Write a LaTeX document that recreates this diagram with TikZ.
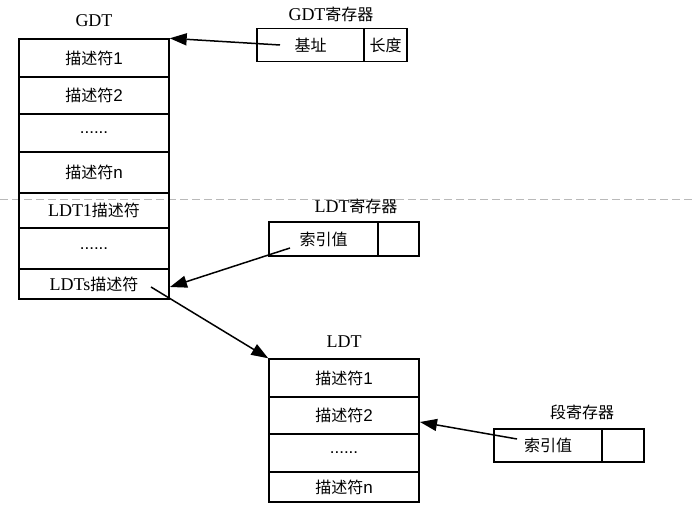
\documentclass[tikz,border=0pt]{standalone}
\usepackage{fontspec}
\setmainfont{Liberation Serif}
\newfontfamily\cjk{Noto Sans CJK SC}
\newfontfamily\arial{Liberation Sans}
\usetikzlibrary{arrows.meta}
\newcommand{\zh}[1]{{\cjk\fontsize{16}{18}\selectfont #1}}
\newcommand{\ar}[1]{{\arial\fontsize{17}{19}\selectfont #1}}
\begin{document}
\begin{tikzpicture}[x=1pt,y=-1pt,
  cell/.style={draw,line width=1.4pt,inner sep=0pt,font=\fontsize{18}{20}\selectfont},
  lbl/.style={inner sep=0pt,font=\fontsize{18}{20}\selectfont},
  conn/.style={line width=1.5pt,-{Triangle[length=17pt,width=12pt]}}]
\useasboundingbox (0,0) rectangle (694,510);
\draw[gray!55,dash pattern=on 8pt off 4pt,line width=1pt] (0,200) -- (694,200);
% GDT table
\node[lbl] (gdtl) at (94,21) {GDT};
\node[cell,minimum width=150pt,minimum height=38pt] (g1) at (94,58) {\zh{描述符}\ar{1}};
\node[cell,minimum width=150pt,minimum height=37pt] (g2) at (94,95.5) {\zh{描述符}\ar{2}};
\node[cell,minimum width=150pt,minimum height=38pt] (g3) at (94,133) {\ar{......}};
\node[cell,minimum width=150pt,minimum height=41pt] (g4) at (94,172.5) {\zh{描述符}\ar{n}};
\node[cell,minimum width=150pt,minimum height=35pt] (g5) at (94,210.5) {LDT1\zh{描述符}};
\node[cell,minimum width=150pt,minimum height=41pt] (g6) at (94,248.5) {\ar{......}};
\node[cell,minimum width=150pt,minimum height=30pt] (g7) at (94,284) {LDTs\zh{描述符}};
% GDT register
\node[lbl] (gregl) at (331,14) {GDT\zh{寄存器}};
\node[cell,minimum width=107pt,minimum height=33pt] (gbase) at (310.5,45) {\zh{基址}};
\node[cell,minimum width=43pt,minimum height=33pt] (glen) at (385.5,45) {\zh{长度}};
% LDT register
\node[lbl] (lregl) at (356,206) {LDT\zh{寄存器}};
\node[cell,minimum width=109pt,minimum height=34pt] (lidx) at (323.5,239) {\zh{索引值}};
\node[cell,minimum width=41pt,minimum height=34pt] (lrest) at (398.5,239) {};
% LDT table
\node[lbl] (ldtl) at (344,342) {LDT};
\node[cell,minimum width=150pt,minimum height=38pt] (l1) at (344,378) {\zh{描述符}\ar{1}};
\node[cell,minimum width=150pt,minimum height=37pt] (l2) at (344,415.5) {\zh{描述符}\ar{2}};
\node[cell,minimum width=150pt,minimum height=38pt] (l3) at (344,453) {\ar{......}};
\node[cell,minimum width=150pt,minimum height=30pt] (l4) at (344,487) {\zh{描述符}\ar{n}};
% segment register
\node[lbl] (sregl) at (582,412) {\zh{段寄存器}};
\node[cell,minimum width=108pt,minimum height=33pt] (sidx) at (548,445.5) {\zh{索引值}};
\node[cell,minimum width=42pt,minimum height=33pt] (srest) at (623,445.5) {};
% connectors
\coordinate (a1) at (280,45);
\coordinate (a2) at (290,248);
\coordinate (a2e) at (170,287);
\coordinate (a3) at (151,287);
\coordinate (a4) at (517,439);
\coordinate (a4e) at (420,422);
\draw[conn] (a1) -- (g1.north east);
\draw[conn] (a2) -- (a2e);
\draw[conn] (a3) -- (l1.north west);
\draw[conn] (a4) -- (a4e);
\end{tikzpicture}
\end{document}
